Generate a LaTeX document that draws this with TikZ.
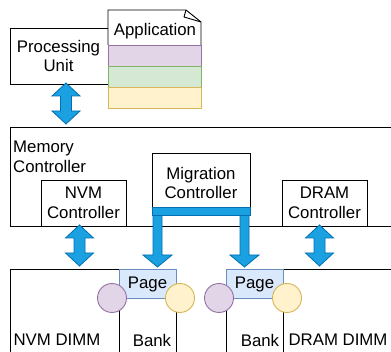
\documentclass[tikz,border=0pt]{standalone}
\usepackage{fontspec}
\setmainfont{Liberation Sans}
\definecolor{linkfill}{HTML}{1BA1E2}
\definecolor{linkdraw}{HTML}{006EAF}
\definecolor{purplefill}{HTML}{E1D5E7}
\definecolor{purpledraw}{HTML}{9673A6}
\definecolor{greenfill}{HTML}{D5E8D4}
\definecolor{greendraw}{HTML}{82B366}
\definecolor{yellowfill}{HTML}{FFF2CC}
\definecolor{yellowdraw}{HTML}{D6B656}
\definecolor{pagefill}{HTML}{DAE8FC}
\definecolor{pagedraw}{HTML}{6C8EBF}
% vertical double block arrow: centre x, top y, bottom y
\newcommand{\vdblarrow}[3]{%
  \filldraw[link] (#1-5.5,#2+13) -- (#1-14,#2+13) -- (#1,#2) -- (#1+14,#2+13)
    -- (#1+5.5,#2+13) -- (#1+5.5,#3-13) -- (#1+14,#3-13) -- (#1,#3)
    -- (#1-14,#3-13) -- (#1-5.5,#3-13) -- cycle;}
% downward leg with arrow head: left x, right x, top y, bottom y
\newcommand{\downleg}[4]{%
  \filldraw[link] (#1,#3) -- (#2,#3) -- (#2,#4-12) -- (#2+10,#4-12)
    -- ({(#1+#2)/2},#4) -- (#1-10,#4-12) -- (#1,#4-12) -- cycle;}
\begin{document}
\begin{tikzpicture}[x=1pt,y=-1pt,
  box/.style={draw=black,line width=0.9pt,fill=white},
  link/.style={fill=linkfill,draw=linkdraw,line width=0.8pt,line join=miter},
  lbl/.style={font=\fontsize{16.8}{19.5}\selectfont,align=center,inner sep=0pt}]
\useasboundingbox (0,0) rectangle (391,352);
\begin{scope}
\clip (0,0) rectangle (391,352);

% processing unit and application
\draw[box] (10,28) rectangle (115,84);
\node[lbl] (pu) at (58.5,56) {Processing\\Unit};
\draw[box] (108,45) -- (108,10) -- (186,10) -- (201,22) -- (201,45);
\draw[line width=0.9pt,line join=round] (186,10) -- (184,17) -- (201,22);
\node[lbl] (app) at (155,31) {Application};
\draw[fill=purplefill,draw=purpledraw,line width=0.9pt] (108,45) rectangle (201,66);
\draw[fill=greenfill,draw=greendraw,line width=0.9pt] (108,66) rectangle (201,87);
\draw[fill=yellowfill,draw=yellowdraw,line width=0.9pt] (108,87) rectangle (201,108);

% memory controller
\draw[box] (10,127) rectangle (400,226);
\node[lbl,align=left,anchor=north west] (mc) at (13,141) {Memory\\Controller};
\draw[box] (41,180) rectangle (126,226);
\node[lbl] (nvmc) at (83.5,203) {NVM\\Controller};
\draw[box] (152,153) rectangle (250,212);
\node[lbl] (migc) at (201,183) {Migration\\Controller};
\draw[box] (282,180) rectangle (367,226);
\node[lbl] (dramc) at (324.5,203) {DRAM\\Controller};

% DIMMs, banks and pages
\draw[box] (10,400) -- (10,269) -- (119,269) -- (119,400);
\draw[box] (119,400) -- (119,298) -- (176,298) -- (176,400);
\draw[fill=pagefill,draw=pagedraw,line width=0.9pt] (119,269) rectangle (176,298);
\node[lbl] (pagea) at (147.5,284) {Page};
\draw[box] (226,400) -- (226,298) -- (283,298) -- (283,400);
\draw[box] (283,400) -- (283,269) -- (400,269);
\draw[fill=pagefill,draw=pagedraw,line width=0.9pt] (226,269) rectangle (283,298);
\node[lbl] (pageb) at (254.5,284) {Page};
\draw[fill=purplefill,draw=purpledraw,line width=0.9pt] (112,298) circle (14.5);
\draw[fill=yellowfill,draw=yellowdraw,line width=0.9pt] (180,298) circle (14.5);
\draw[fill=purplefill,draw=purpledraw,line width=0.9pt] (219,298) circle (14.5);
\draw[fill=yellowfill,draw=yellowdraw,line width=0.9pt] (287,298) circle (14.5);
\node[lbl] (nvmd) at (57,340) {NVM DIMM};
\node[lbl] (banka) at (152,340) {Bank};
\node[lbl] (bankb) at (260,340) {Bank};
\node[lbl] (dramd) at (338,340) {DRAM DIMM};

% links
\vdblarrow{66}{83}{124}
\vdblarrow{79.5}{225}{266}
\vdblarrow{319.5}{225}{266}
\downleg{153}{162}{214}{267}
\downleg{240}{249}{214}{267}
\filldraw[link] (152,207) rectangle (250,215);
\end{scope}
\end{tikzpicture}
\end{document}
